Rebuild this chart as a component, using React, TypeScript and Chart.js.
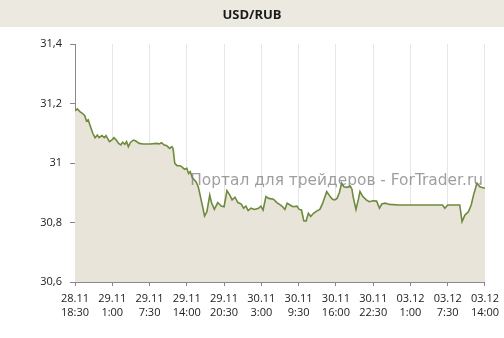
import React, { useEffect, useRef } from "react";
import { Chart, registerables } from "chart.js";

Chart.register(...registerables);

const TITLE = "USD/RUB";
const WATERMARK = "Портал для трейдеров - ForTrader.ru";

// x ticks every 6.5 hours
const tickDates = ["28.11", "29.11", "29.11", "29.11", "29.11", "30.11", "30.11", "30.11", "30.11", "03.12", "03.12", "03.12"];
const tickTimes = ["18:30", "1:00", "7:30", "14:00", "20:30", "3:00", "9:30", "16:00", "22:30", "1:00", "7:30", "14:00"];

// hours since 28.11 18:30
const hours = [
  0, 0.4, 0.9, 1.3, 1.7, 2.0, 2.3, 2.6, 3.1, 3.5, 3.9, 4.2, 4.7, 5.1, 5.4, 6.0, 6.4, 6.8, 7.2, 7.6,
  8.0, 8.3, 8.7, 9.0, 9.3, 9.7, 10.2, 10.6, 11.2, 11.9, 13.1, 14.3, 14.7, 15.1, 15.5, 16.0, 16.5, 16.9, 17.1, 17.4,
  17.8, 18.3, 18.6, 19.1, 19.5, 19.8, 20.1, 20.5, 21.1, 21.5, 22.0, 22.6, 23.0, 23.5, 23.8, 24.3, 24.9, 25.5, 26.0, 26.5,
  27.0, 27.4, 27.9, 28.4, 29.0, 29.4, 29.8, 30.2, 30.7, 31.3, 32.0, 32.4, 32.8, 33.3, 33.8, 34.6, 35.2, 35.8, 36.2, 36.6,
  37.0, 37.5, 38.0, 38.7, 39.1, 39.5, 39.9, 40.3, 40.7, 41.1, 41.6, 42.2, 42.7, 43.2, 43.9, 44.5, 44.9, 45.3, 45.7, 46.1,
  46.5, 46.9, 47.4, 48.0, 48.3, 48.5, 49.0, 49.4, 49.7, 50.2, 50.8, 51.3, 52.0, 52.6, 53.1, 53.5, 54.1, 54.6, 54.9, 56.4,
  59.9, 64.1, 64.5, 65.0, 66.9, 67.1, 67.5, 68.0, 68.6, 69.1, 69.5, 70.1, 70.6, 71.0, 71.5,
];

const rates = [
  31.175, 31.182, 31.172, 31.167, 31.159, 31.141, 31.145, 31.128, 31.100, 31.085, 31.094, 31.085, 31.092, 31.085, 31.092, 31.072, 31.077, 31.085, 31.077, 31.066,
  31.061, 31.070, 31.063, 31.072, 31.055, 31.070, 31.077, 31.074, 31.066, 31.064, 31.064, 31.066, 31.064, 31.068, 31.061, 31.058, 31.049, 31.055, 31.049, 30.999,
  30.991, 30.991, 30.988, 30.979, 30.982, 30.965, 30.971, 30.949, 30.937, 30.920, 30.876, 30.822, 30.836, 30.892, 30.867, 30.844, 30.867, 30.855, 30.853, 30.907,
  30.892, 30.876, 30.885, 30.867, 30.862, 30.848, 30.855, 30.840, 30.848, 30.844, 30.848, 30.855, 30.842, 30.887, 30.881, 30.878, 30.867, 30.859, 30.853, 30.844,
  30.865, 30.859, 30.853, 30.855, 30.844, 30.842, 30.806, 30.805, 30.831, 30.820, 30.831, 30.839, 30.844, 30.865, 30.904, 30.887, 30.878, 30.876, 30.881, 30.900,
  30.932, 30.920, 30.918, 30.923, 30.912, 30.887, 30.844, 30.876, 30.904, 30.887, 30.876, 30.870, 30.873, 30.872, 30.848, 30.862, 30.865, 30.862, 30.861, 30.859,
  30.859, 30.859, 30.848, 30.859, 30.859, 30.859, 30.803, 30.825, 30.836, 30.859, 30.892, 30.932, 30.920, 30.918, 30.915,
];

const Y_MIN = 30.6;
const Y_MAX = 31.4;
const Y_STEP = 0.2;
const X_MAX = 71.5;
const X_STEP = 6.5;

const FONT = "'Open Sans', 'DejaVu Sans', sans-serif";
const WM_FONT = "'DejaVu Sans', sans-serif";

export default function App() {
  const ref = useRef<HTMLCanvasElement>(null);

  useEffect(() => {
    document.body.style.margin = "0";
    const canvas = ref.current;
    if (!canvas) return;

    const bgPlugin = {
      id: "bgTitle",
      beforeDraw(chart: any) {
        const ctx = chart.ctx;
        ctx.save();
        ctx.fillStyle = "#ffffff";
        ctx.fillRect(0, 0, chart.width, chart.height);
        ctx.fillStyle = "#ECE9E1";
        ctx.fillRect(0, 0, chart.width, 27);
        ctx.fillStyle = "#1a1a1a";
        ctx.font = `bold 13px ${FONT}`;
        ctx.textAlign = "center";
        ctx.textBaseline = "middle";
        ctx.fillText(TITLE, chart.width / 2, 15);
        ctx.restore();
      },
      afterDatasetsDraw(chart: any) {
        const ctx = chart.ctx;
        ctx.save();
        ctx.fillStyle = "rgba(125,125,125,0.75)";
        let size = 16;
        ctx.font = `${size}px ${WM_FONT}`;
        const w = ctx.measureText(WATERMARK).width;
        size = Math.max(10, Math.min(20, size * 293 / w));
        ctx.font = `${size}px ${WM_FONT}`;
        ctx.textAlign = "right";
        ctx.textBaseline = "middle";
        ctx.fillText(WATERMARK, chart.chartArea.right - 2, 181);
        ctx.restore();
      },
    };

    const chart = new Chart(canvas, {
      type: "line",
      data: {
        datasets: [
          {
            data: hours.map((h, i) => ({ x: h, y: rates[i] })),
            borderColor: "#6E8A3C",
            borderWidth: 1.6,
            backgroundColor: "#E8E4D9",
            fill: "start",
            pointRadius: 0,
            tension: 0,
          },
        ],
      },
      options: {
        animation: false,
        responsive: false,
        maintainAspectRatio: false,
        layout: { padding: { top: 44, right: 19, left: 0, bottom: 0 } },
        plugins: {
          legend: { display: false },
          title: { display: false },
          tooltip: { enabled: false },
        },
        scales: {
          x: {
            type: "linear",
            min: 0,
            max: X_MAX,
            afterFit: (s: any) => {
              s.height = 56;
            },
            afterBuildTicks: (s: any) => {
              s.ticks = tickDates.map((_, i) => ({ value: i * X_STEP }));
            },
            ticks: {
              color: "#222",
              font: { family: FONT, size: 11, lineHeight: 1.35 },
              padding: 5,
              maxRotation: 0,
              autoSkip: false,
              callback: (_v: any, i: number) => [tickDates[i], tickTimes[i]],
            },
            grid: {
              color: "#E6E6E6",
              tickColor: "#888",
              tickLength: 4,
              drawTicks: true,
            },
            border: { color: "#8a8a8a", width: 1 },
          },
          y: {
            min: Y_MIN,
            max: Y_MAX,
            afterFit: (s: any) => {
              s.width = 75;
            },
            ticks: {
              stepSize: Y_STEP,
              color: "#222",
              font: { family: FONT, size: 11 },
              padding: 8,
              callback: (v: any) => String(Math.round(Number(v) * 10) / 10).replace(".", ","),
            },
            grid: {
              drawOnChartArea: false,
              tickColor: "#888",
              tickLength: 5,
            },
            border: { color: "#8a8a8a", width: 1 },
          },
        },
      },
      plugins: [bgPlugin],
    });

    return () => chart.destroy();
  }, []);

  return (
    <div style={{ position: "absolute", left: 0, top: 0, width: 504, height: 338 }}>
      <canvas ref={ref} width={504} height={338} style={{ width: 504, height: 338, display: "block" }} />
    </div>
  );
}
